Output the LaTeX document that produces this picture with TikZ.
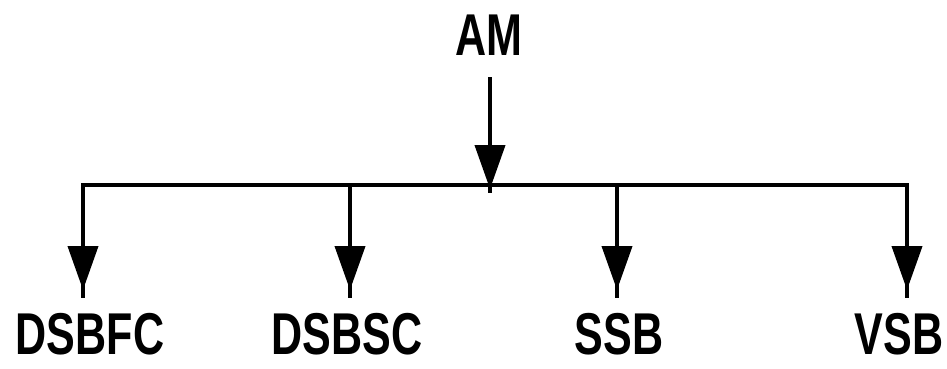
\documentclass[tikz,border=0pt]{standalone}
\usepackage{fontspec}
\setmainfont{Liberation Sans}
\usetikzlibrary{arrows.meta}
\tikzset{
  lbl/.style={inner sep=0pt, anchor=base, font=\fontsize{59}{59}\selectfont\bfseries},
  wire/.style={line width=4pt},
  arr/.style={line width=4pt, -{Triangle[width=30pt,length=44pt]}}
}
\newcommand{\lab}[1]{\scalebox{0.73}[1]{#1}}
\begin{document}
\begin{tikzpicture}[x=1pt,y=-1pt]
\useasboundingbox (0,0) rectangle (947,368);
% nodes
\node[lbl] (am) at (489,55) {\lab{AM}};
\node[lbl] (c1) at (90,354) {\lab{DSBFC}};
\node[lbl] (c2) at (347,354) {\lab{DSBSC}};
\node[lbl] (c3) at (619,354) {\lab{SSB}};
\node[lbl] (c4) at (899,354) {\lab{VSB}};
% coordinates
\coordinate (s) at (490,77);
\coordinate (st) at (490,189);
\coordinate (se) at (490,193);
\coordinate (hl) at (81,185);
\coordinate (hr) at (909,185);
\foreach \i/\x in {1/83,2/350,3/617,4/907}{
  \coordinate (j\i) at (\x,185);
  \coordinate (t\i) at (\x,290);
  \coordinate (e\i) at (\x,298);
}
% connectors
\draw[wire] (hl) -- (hr);
\draw[wire] (s) -- (se);
\draw[arr] (s) -- (st);
\foreach \i in {1,2,3,4}{
  \draw[wire] (j\i) -- (e\i);
  \draw[arr] (j\i) -- (t\i);
}
\end{tikzpicture}
\end{document}
